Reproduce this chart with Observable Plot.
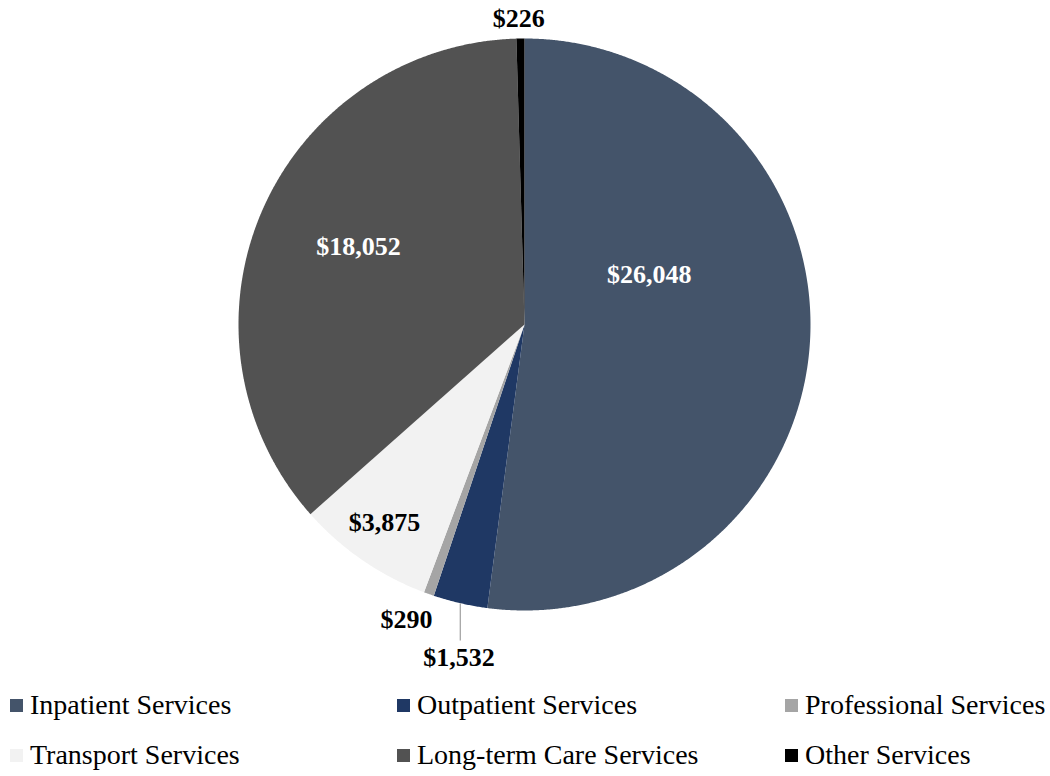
<!DOCTYPE html>
<html>
<head>
<meta charset="utf-8">
<script src="https://cdn.jsdelivr.net/npm/d3@7"></script>
<script src="https://cdn.jsdelivr.net/npm/@observablehq/plot@0.6"></script>
<style>
  html, body { margin: 0; padding: 0; background: #fff; }
  #chart { position: relative; width: 1050px; }
  #legend { position: relative; width: 1050px; height: 96px; font-family: "Times New Roman", "Liberation Serif", Tinos, "DejaVu Serif", serif; font-size: 28px; color: #000; }
  .item { position: absolute; display: flex; align-items: center; white-space: nowrap; }
  .sw { width: 13px; height: 13px; margin-right: 7px; }
  #chart svg text { font-family: "Times New Roman", "Liberation Serif", Tinos, "DejaVu Serif", serif; }
</style>
</head>
<body>
<div id="chart"></div>
<div id="legend"></div>
<script>
// ---- data ----
const categories = ["Inpatient Services", "Outpatient Services", "Professional Services", "Transport Services", "Long-term Care Services", "Other Services"];
const values = [26048, 1532, 290, 3875, 18052, 226];
const colors = ["#44546A", "#1F3864", "#A5A5A5", "#F2F2F2", "#525252", "#000000"];
const labelColors = ["#ffffff", "#000000", "#000000", "#000000", "#ffffff", "#000000"];
// label placement (radius fraction, angle in degrees clockwise from top)
const labelRadius = [0.47, 1.188, 1.111, 0.849, 0.641, 1.068];
const labelAngle = [68.1, 191.1, 201.8, 215.2, 295.2, 358.9];

// ---- geometry from data ----
const total = d3.sum(values);
let cum = 0;
const slices = categories.map((c, i) => {
  const a0 = cum / total * 2 * Math.PI;
  cum += values[i];
  const a1 = cum / total * 2 * Math.PI;
  return {cat: c, value: values[i], a0, a1, mid: (a0 + a1) / 2};
});
const polyPts = [];
slices.forEach(s => {
  polyPts.push({cat: s.cat, x: 0, y: 0});
  const n = Math.max(2, Math.ceil((s.a1 - s.a0) / (Math.PI / 720)));
  for (let k = 0; k <= n; k++) {
    const a = s.a0 + (s.a1 - s.a0) * k / n;
    polyPts.push({cat: s.cat, x: Math.sin(a), y: Math.cos(a)});
  }
  polyPts.push({cat: s.cat, x: 0, y: 0});
});
const labels = slices.map((s, i) => {
  const a = labelAngle[i] * Math.PI / 180;
  return {text: "$" + d3.format(",")(s.value), x: labelRadius[i] * Math.sin(a), y: labelRadius[i] * Math.cos(a), color: labelColors[i]};
});
// leader line for the outpatient label
const out = slices[1];
const leader = [{x1: Math.sin(out.mid), y1: Math.cos(out.mid), x2: Math.sin(out.mid), y2: Math.cos(out.mid) - 0.13}];

const R = 286, cx = 524, cy = 324;
const chart = Plot.plot({
  width: 1050,
  height: 680,
  margin: 0,
  x: {domain: [-1, 1], range: [cx - R, cx + R], axis: null},
  y: {domain: [-1, 1], range: [cy + R, cy - R], axis: null},
  color: {domain: categories, range: colors},
  style: {fontFamily: "'Times New Roman', 'Liberation Serif', Tinos, 'DejaVu Serif', serif", background: "#fff"},
  marks: [
    Plot.line(polyPts, {x: "x", y: "y", z: "cat", fill: "cat", stroke: "none", curve: "linear"}),
    Plot.link(leader, {x1: "x1", y1: "y1", x2: "x2", y2: "y2", stroke: "#A6A6A6", strokeWidth: 1.3}),
    Plot.text(labels, {x: "x", y: "y", text: "text", fill: "color", fontSize: 26, fontWeight: "bold", textAnchor: "middle", lineAnchor: "middle"})
  ]
});
document.getElementById("chart").appendChild(chart);

// ---- legend ----
const legendX = [10, 397, 785];
const legendY = [25, 75];
const leg = document.getElementById("legend");
categories.forEach((c, i) => {
  const it = document.createElement("div");
  it.className = "item";
  it.style.left = legendX[i % 3] + "px";
  it.style.top = (legendY[Math.floor(i / 3)] - 17) + "px";
  it.style.height = "34px";
  const sw = document.createElement("div");
  sw.className = "sw";
  sw.style.background = colors[i];
  const tx = document.createElement("span");
  tx.textContent = c;
  it.appendChild(sw);
  it.appendChild(tx);
  leg.appendChild(it);
});
</script>
</body>
</html>
